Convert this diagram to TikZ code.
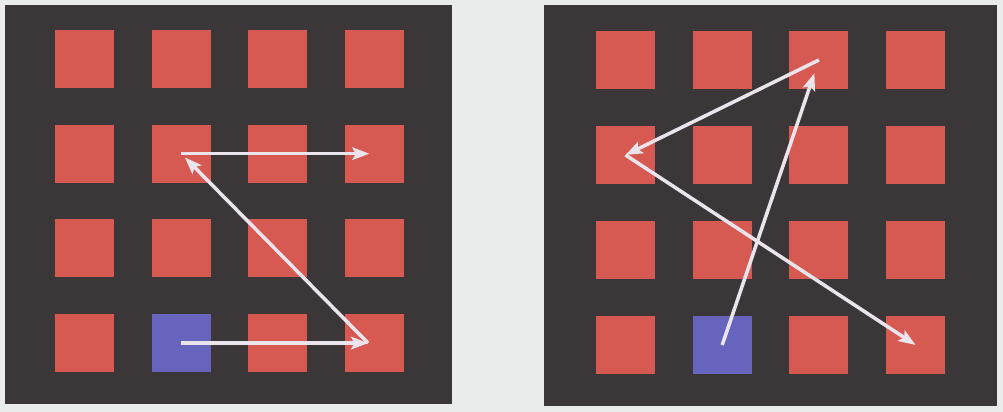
\documentclass[tikz,border=0pt]{standalone}
\usepackage{xcolor}
\usepackage{tikz}
\usetikzlibrary{arrows.meta, positioning}
\definecolor{paper}{HTML}{E9ECEB}
\definecolor{boardgray}{HTML}{3B3637}
\definecolor{cellred}{HTML}{D65A52}
\definecolor{cellblue}{HTML}{6764BE}
\definecolor{pathwhite}{HTML}{ECE4EC}

\begin{document}
\begin{tikzpicture}[x=0.02cm, y=-0.02cm,
        board/.style={fill=boardgray, inner sep=0pt, minimum height=7.98cm},
        cell/.style={fill=cellred, inner sep=0pt, minimum width=1.18cm, minimum height=1.16cm},
        start/.style={cell, fill=cellblue},
        jump/.style={draw=pathwhite, line width=2pt, shorten >=3pt,
                     -{Stealth[length=0.34cm, width=0.25cm, inset=0.07cm]}},
    ]
    \fill[paper] (0,0) rectangle (1003,412);
    \useasboundingbox (0,0) rectangle (1003,412);

    % two boards
    \node[board, minimum width=8.94cm] (lboard) at (228.5,204.5) {};
    \node[board, minimum width=9.06cm, minimum height=8.02cm] (rboard) at (770.5,205.5) {};

    % cells, named by column and row
    \foreach \c in {1,...,4}
        \foreach \r in {1,...,4} {
            \node[cell] (l-\c-\r) at ({84.5+96.7*(\c-1)}, {59+94.7*(\r-1)}) {};
            \node[cell] (r-\c-\r) at ({625.5+96.7*(\c-1)}, {60+95*(\r-1)}) {};
        }
    \node[start] (l-2-4) at (l-2-4) {};
    \node[start] (r-2-4) at (r-2-4) {};

    % row by row
    \coordinate (lturn) at ([xshift=-0.13cm]l-4-4.center);
    \draw[jump, shorten >=0pt] (l-2-4.center) -- (lturn);
    \draw[jump] (lturn) -- (l-2-2.center);
    \draw[jump] (l-2-2.center) -- (l-4-2.center);

    % jumping around
    \draw[jump, shorten >=0.28cm] (r-2-4.center) -- (r-3-1.center);
    \draw[jump, shorten >=0pt] (r-3-1.center) -- (r-1-2.center);
    \draw[jump, shorten >=0pt] (r-1-2.center) -- (r-4-4.center);
\end{tikzpicture}
\end{document}
